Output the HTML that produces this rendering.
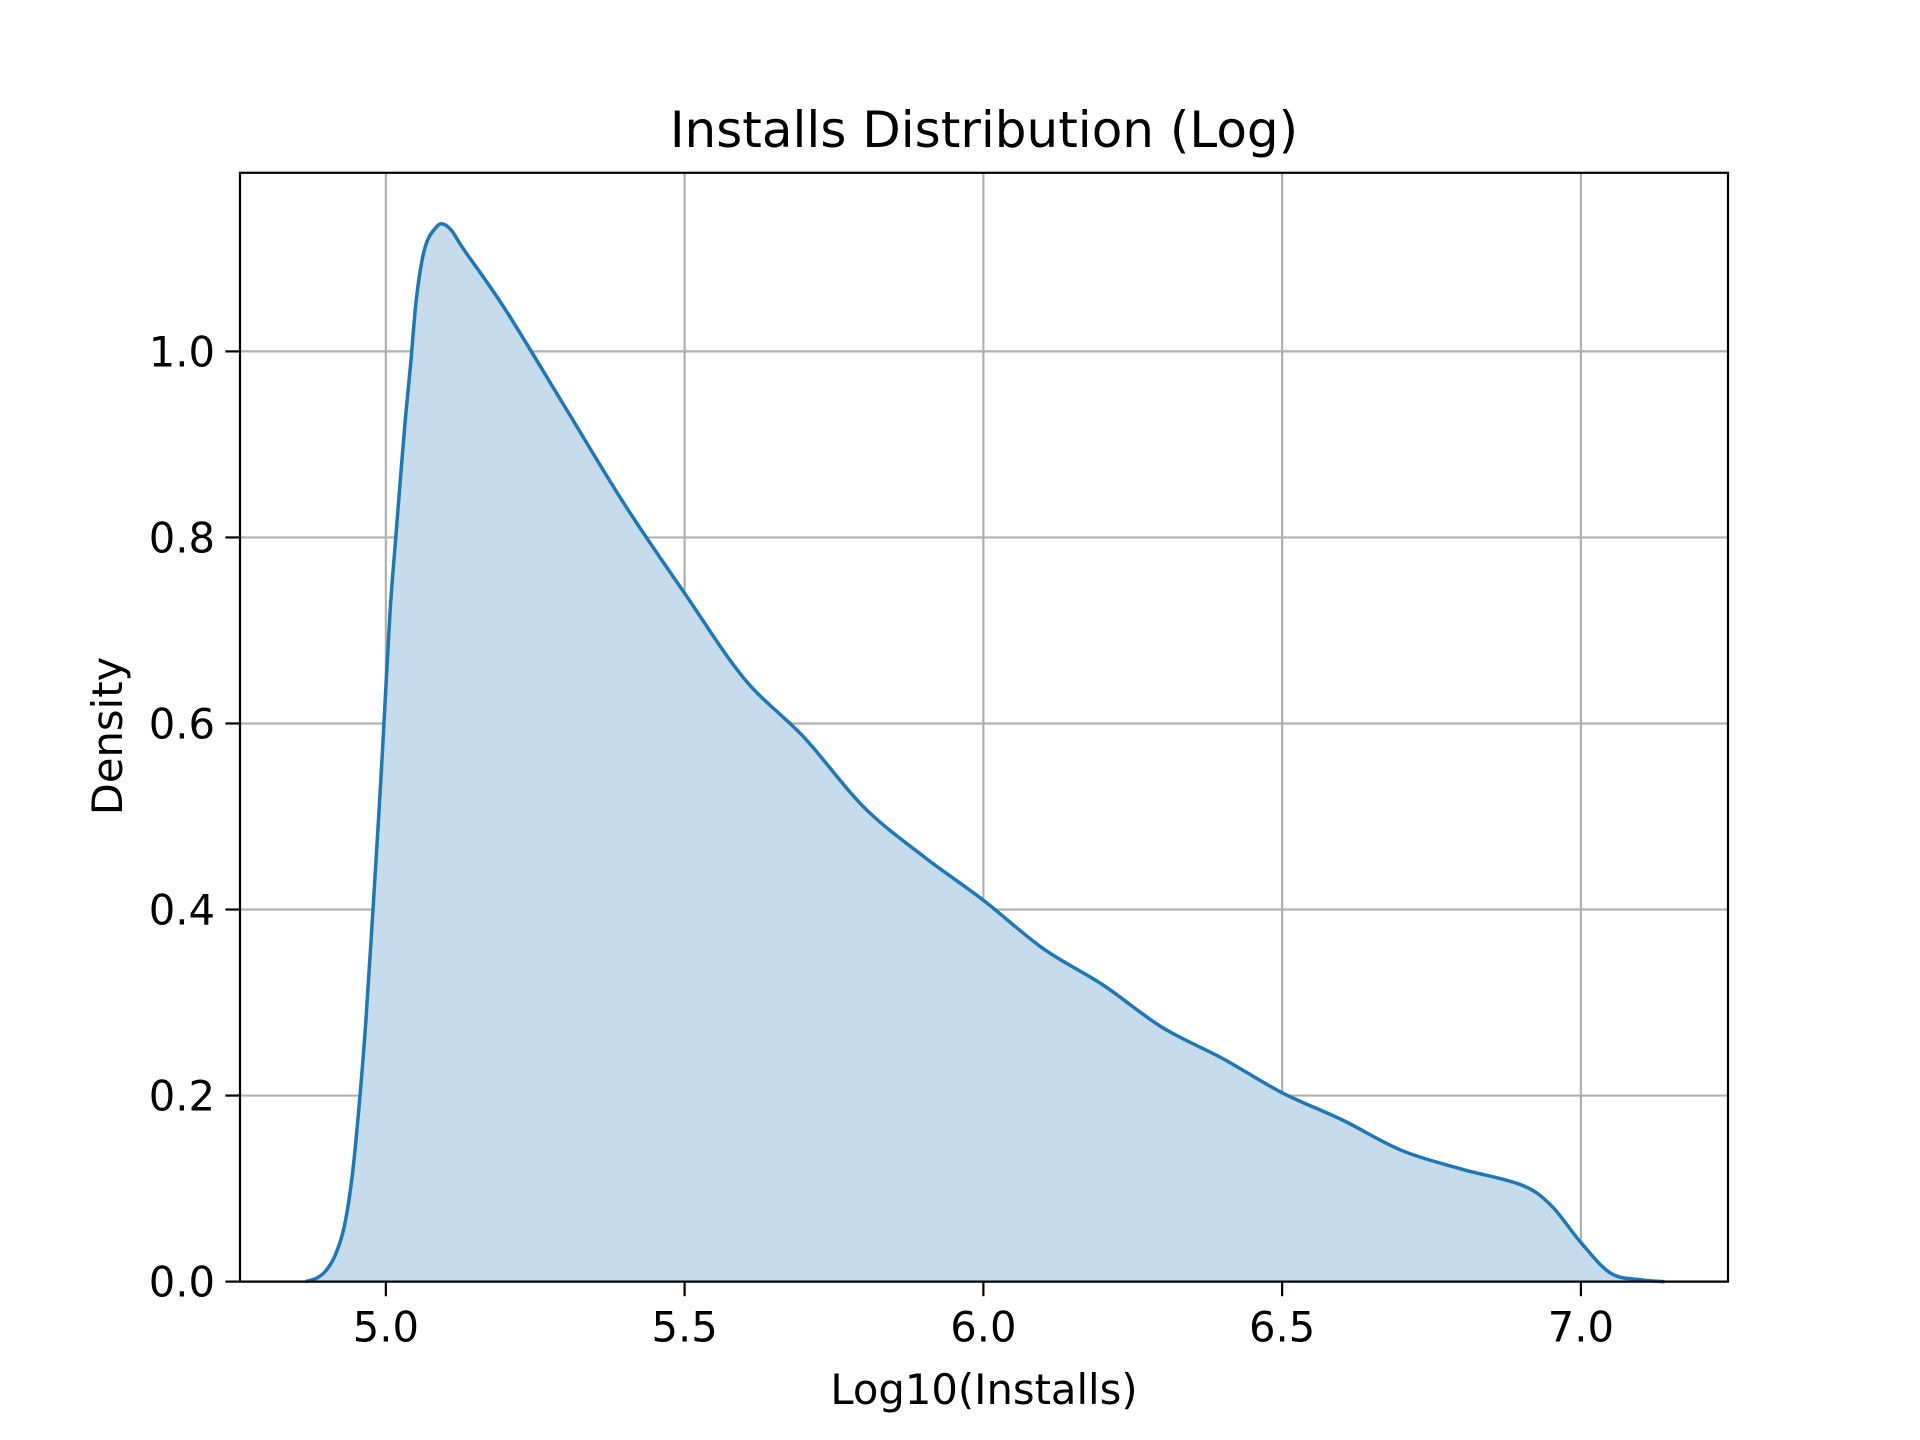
<!DOCTYPE html>
<html><head><meta charset="utf-8"><style>
body{margin:0;background:#fff;}
svg{display:block;font-family:"DejaVu Sans","Liberation Sans",sans-serif;}
</style></head><body>
<svg id="chart" width="1920" height="1440" viewBox="0 0 1920 1440" xmlns="http://www.w3.org/2000/svg">
<rect width="1920" height="1440" fill="#fff"/>
<g id="grid"></g>
<path id="area" fill="#c6dbec" stroke="none"/>
<path id="line" fill="none" stroke="#1f77b4" stroke-width="3.5"/>
<rect x="240" y="172.8" width="1488" height="1108.8" fill="none" stroke="#000" stroke-width="2.2"/>
<g id="ticks"></g>
<text x="984" y="147" font-size="50" text-anchor="middle">Installs Distribution (Log)</text>
<text x="984" y="1404" font-size="41.7" text-anchor="middle">Log10(Installs)</text>
<text x="0" y="0" font-size="41.7" text-anchor="middle" transform="translate(122,736) rotate(-90)">Density</text>
</svg>
<script>
const xs=[4.866,4.885,4.90,4.915,4.93,4.943,4.954,4.966,4.977,4.988,4.996,5.007,5.016,5.024,5.033,5.042,5.05,5.06,5.07,5.085,5.095,5.11,5.13,5.2,5.3,5.4,5.5,5.6,5.7,5.8,5.9,6.0,6.1,6.2,6.3,6.4,6.5,6.6,6.7,6.8,6.9,6.95,7.0,7.05,7.1,7.14];
const ys=[0,0.004,0.012,0.028,0.058,0.11,0.18,0.275,0.385,0.50,0.59,0.72,0.795,0.86,0.93,0.99,1.05,1.096,1.12,1.134,1.137,1.13,1.11,1.045,0.94,0.835,0.74,0.648,0.585,0.51,0.457,0.41,0.358,0.319,0.273,0.24,0.203,0.174,0.141,0.121,0.104,0.082,0.042,0.009,0.002,0];
const xTicks=[5.0,5.5,6.0,6.5,7.0];
const xTickLabels=["5.0","5.5","6.0","6.5","7.0"];
const yTicks=[0,0.2,0.4,0.6,0.8,1.0];
const yTickLabels=["0.0","0.2","0.4","0.6","0.8","1.0"];
const X0=240,X1=1728,Y0=1281.6,Y1=172.8,xmin=4.7559,xmax=7.2462,ymin=0,ymax=1.192;
const sx=v=>X0+(v-xmin)/(xmax-xmin)*(X1-X0);
const sy=v=>Y0-(v-ymin)/(ymax-ymin)*(Y0-Y1);
const NS="http://www.w3.org/2000/svg";
const grid=document.getElementById('grid'),ticks=document.getElementById('ticks');
function mk(tag,attrs,parent){const e=document.createElementNS(NS,tag);for(const k in attrs)e.setAttribute(k,attrs[k]);parent.appendChild(e);return e;}
xTicks.forEach((t,i)=>{const x=sx(t);
 const g=mk('line',{x1:x,x2:x,y1:Y1,y2:Y0,stroke:'#b0b0b0','stroke-width':2.2},grid);
 
 
 const tk=mk('line',{x1:x,x2:x,y1:Y0,y2:Y0+14.6,stroke:'#000','stroke-width':2.2},ticks);
 
 
 const tx=mk('text',{x:x,y:Y0+60,'font-size':41.7,'text-anchor':'middle'},ticks);
 tx.textContent=xTickLabels[i];
 
 
});
yTicks.forEach((t,i)=>{const y=sy(t);
 const g=mk('line',{x1:X0,x2:X1,y1:y,y2:y,stroke:'#b0b0b0','stroke-width':2.2},grid);
 
 
 const tk=mk('line',{x1:X0-14.6,x2:X0,y1:y,y2:y,stroke:'#000','stroke-width':2.2},ticks);
 
 
 const tx=mk('text',{x:X0-25,y:y+15,'font-size':41.7,'text-anchor':'end'},ticks);
 tx.textContent=yTickLabels[i];
 
 
});
const P=xs.map((v,i)=>[sx(v),sy(ys[i])]);
let d=`M${P[0][0]},${P[0][1]}`;
for(let i=0;i<P.length-1;i++){const p0=P[Math.max(0,i-1)],p1=P[i],p2=P[i+1],p3=P[Math.min(P.length-1,i+2)];
 const c1=[p1[0]+(p2[0]-p0[0])/6,p1[1]+(p2[1]-p0[1])/6],c2=[p2[0]-(p3[0]-p1[0])/6,p2[1]-(p3[1]-p1[1])/6];
 d+=`C${c1[0]},${Math.min(c1[1],Y0)} ${c2[0]},${Math.min(c2[1],Y0)} ${p2[0]},${p2[1]}`;}
document.getElementById('line').setAttribute('d',d);
document.getElementById('area').setAttribute('d',d+`L${P[P.length-1][0]},${sy(0)}L${P[0][0]},${sy(0)}Z`);
</script>
</body></html>
